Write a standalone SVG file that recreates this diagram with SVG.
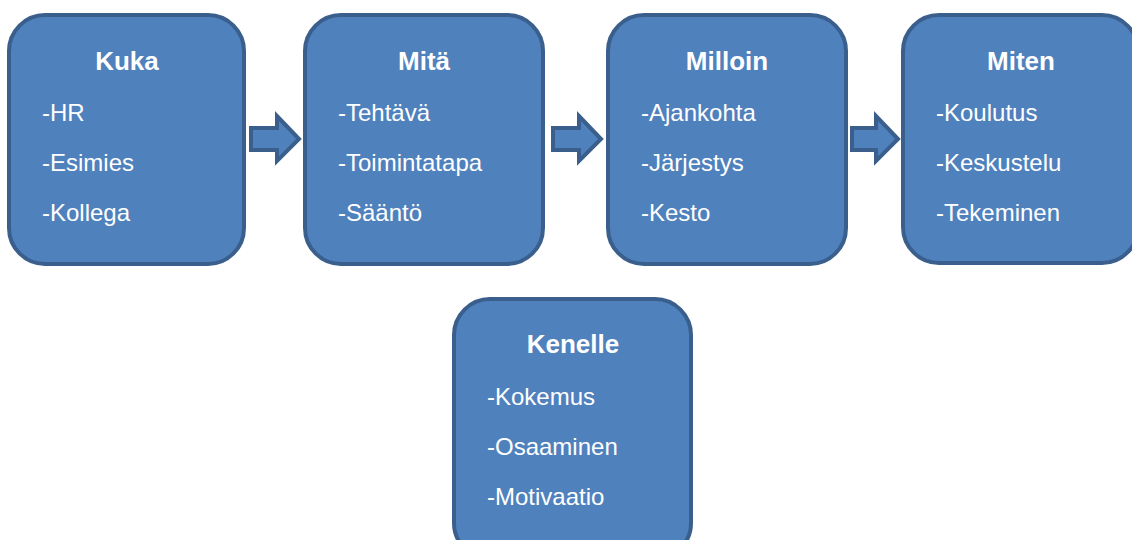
<svg xmlns="http://www.w3.org/2000/svg" width="1132" height="540" viewBox="0 0 1132 540">
<style>
.box{fill:#4F81BD;stroke:#3A5F8C;stroke-width:4}
.arr{fill:#4F81BD;stroke:#3A5F8C;stroke-width:4;stroke-linejoin:miter}
.t{font-family:"Liberation Sans",Arial,sans-serif;font-weight:bold;font-size:26px;fill:#fff;text-anchor:middle}
.i{font-family:"Liberation Sans",Arial,sans-serif;font-size:24px;fill:#fff}
</style>
<rect width="1132" height="540" fill="#fff"/>
<g id="connectors">
<path class="arr" d="M251,128 H277 V116 L299,139 L277,161 V150 H251 Z"/>
<path class="arr" d="M553,128 H579 V116 L601,139 L579,161 V150 H553 Z"/>
<path class="arr" d="M852,128 H876 V116 L898,139 L876,161 V150 H852 Z"/>
</g>
<g id="kuka">
<rect class="box" x="9" y="15" width="235" height="249" rx="36"/>
<text class="t" x="127" y="70">Kuka</text>
<text class="i" x="42" y="121">-HR</text>
<text class="i" x="42" y="171">-Esimies</text>
<text class="i" x="42" y="221">-Kollega</text>
</g>
<g id="mita">
<rect class="box" x="305" y="15" width="238" height="249" rx="36"/>
<text class="t" x="424" y="70">Mitä</text>
<text class="i" x="338" y="121">-Tehtävä</text>
<text class="i" x="338" y="171">-Toimintatapa</text>
<text class="i" x="338" y="221">-Sääntö</text>
</g>
<g id="milloin">
<rect class="box" x="608" y="15" width="238" height="249" rx="36"/>
<text class="t" x="727" y="70">Milloin</text>
<text class="i" x="641" y="121">-Ajankohta</text>
<text class="i" x="641" y="171">-Järjestys</text>
<text class="i" x="641" y="221">-Kesto</text>
</g>
<g id="miten">
<rect class="box" x="903" y="15" width="235" height="248" rx="36"/>
<text class="t" x="1021" y="70">Miten</text>
<text class="i" x="936" y="121">-Koulutus</text>
<text class="i" x="936" y="171">-Keskustelu</text>
<text class="i" x="936" y="221">-Tekeminen</text>
</g>
<g id="kenelle">
<rect class="box" x="454" y="299" width="237" height="260" rx="36"/>
<text class="t" x="573" y="353">Kenelle</text>
<text class="i" x="487" y="405">-Kokemus</text>
<text class="i" x="487" y="455">-Osaaminen</text>
<text class="i" x="487" y="505">-Motivaatio</text>
</g>
</svg>
